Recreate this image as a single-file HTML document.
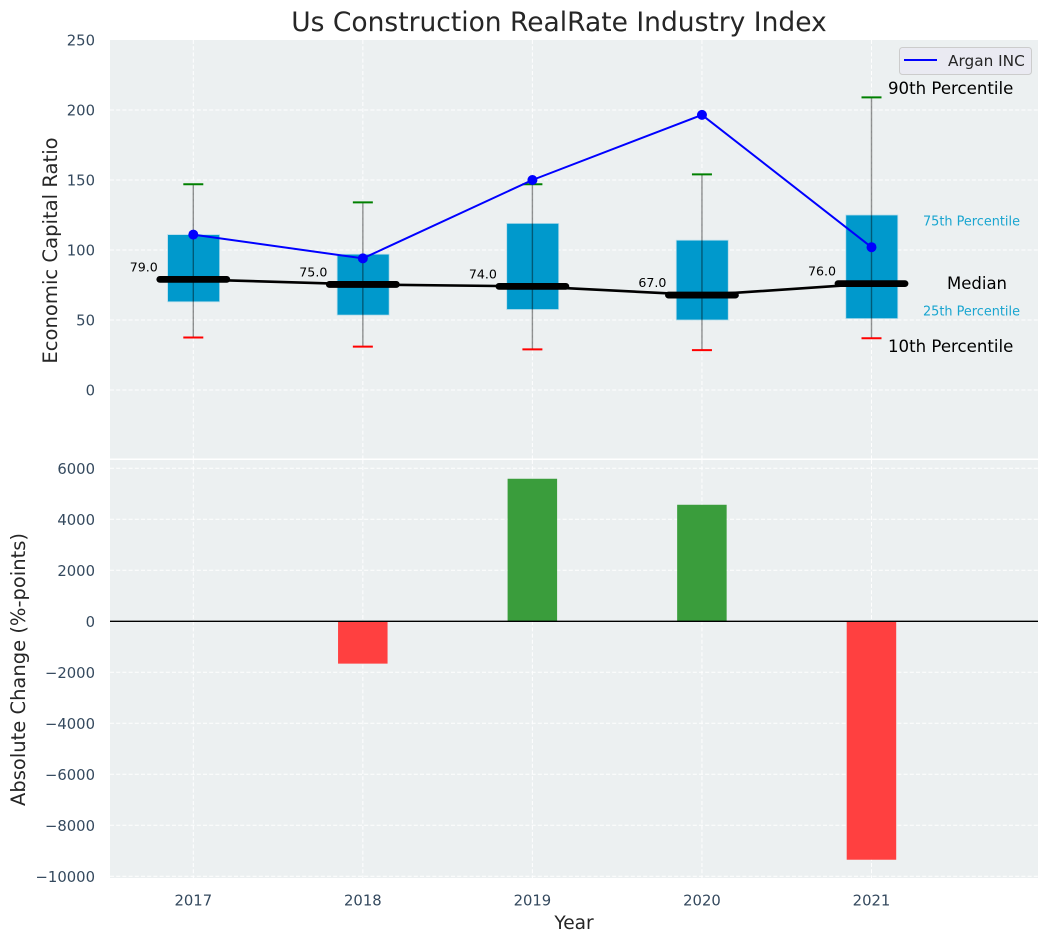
<!DOCTYPE html>
<html>
<head>
<meta charset="utf-8">
<title>Us Construction RealRate Industry Index</title>
<style>
html,body{margin:0;padding:0;background:#fff;}
svg{display:block;font-family:"DejaVu Sans","Liberation Sans",sans-serif;}
</style>
</head>
<body>
<svg id="chart" width="1048" height="942" viewBox="0 0 1048 942" xmlns="http://www.w3.org/2000/svg">
  <rect x="110" y="40" width="928" height="418.5" fill="#ecf0f1"/>
  <rect x="110" y="460" width="928" height="418" fill="#ecf0f1"/>
  <g id="grid"></g>
  <g id="upper"></g>
  <g id="lower"></g>
  <g id="ticks" font-size="14.8" fill="#34495e"></g>

  <text x="559" y="31" text-anchor="middle" font-size="26.5" fill="#262626">Us Construction RealRate Industry Index</text>
  <text transform="translate(57,250.5) rotate(-90)" text-anchor="middle" font-size="19.6" fill="#262626">Economic Capital Ratio</text>
  <text transform="translate(25,669.5) rotate(-90)" text-anchor="middle" font-size="19.5" fill="#262626">Absolute Change (%-points)</text>
  <text x="574" y="929" text-anchor="middle" font-size="18.6" fill="#262626">Year</text>

  <g>
    <rect x="899.5" y="47.5" width="132" height="27" rx="3" fill="#eaeaf2" stroke="#cccccc" stroke-width="1"/>
    <line x1="904" y1="60" x2="937" y2="60" stroke="#0000ff" stroke-width="2"/>
    <text x="948" y="66" font-size="15.3" fill="#262626">Argan INC</text>
  </g>

  <text x="888" y="94" font-size="16.6" fill="#000">90th Percentile</text>
  <text x="923" y="225.5" font-size="12.85" fill="#19a5d0">75th Percentile</text>
  <text x="947" y="289" font-size="16.5" fill="#000">Median</text>
  <text x="923" y="315.5" font-size="12.85" fill="#19a5d0">25th Percentile</text>
  <text x="888" y="352" font-size="16.6" fill="#000">10th Percentile</text>
</svg>
<script>
const years = [2017, 2018, 2019, 2020, 2021];
const p90 = [147, 134, 147, 154, 209];
const p75 = [111, 97, 119, 107, 125];
const median = [79, 75.4, 74, 67.8, 76];
const p25 = [63, 53.5, 57.5, 50, 51];
const p10 = [37.5, 31, 29, 28.5, 37];
const arganInc = [111, 94, 150, 196.5, 102];
const absoluteChange = [0, -1660, 5590, 4570, -9350];
const upperTicks = [0, 50, 100, 150, 200, 250];
const lowerTicks = [-10000, -8000, -6000, -4000, -2000, 0, 2000, 4000, 6000];

const NS = 'http://www.w3.org/2000/svg';
const xScale = v => 193.3 + (v - 2017) * 169.55;
const yUpper = v => 390 - v * 1.4;
const yLower = v => 621.3 - v * 0.0255;

function make(tag, props, parent) {
  const el = document.createElementNS(NS, tag);
  for (const k in props) el.setAttribute(k, props[k]);
  parent.appendChild(el);
  return el;
}
const grid = document.getElementById('grid');
const upper = document.getElementById('upper');
const lower = document.getElementById('lower');
const ticks = document.getElementById('ticks');
const dash = {stroke: '#ffffff', 'stroke-width': 1, 'stroke-dasharray': '4 2.2', opacity: 0.95};

years.forEach(y => {
  const x = xScale(y);
  [[40, 458.5], [460, 878]].forEach(r => {
    const g = make('line', Object.assign({x1: x, x2: x, y1: r[0], y2: r[1]}, dash), grid);
    
    
  });
  const t = make('text', {x: x, y: 905.3, 'text-anchor': 'middle'}, ticks);
  t.textContent = y;
  
  
});

upperTicks.forEach(v => {
  const y = yUpper(v);
  if (v < 250) {
    const g = make('line', Object.assign({x1: 110, x2: 1038, y1: y, y2: y}, dash), grid);
    
    
  }
  const t = make('text', {x: 95, y: y + 5.4, 'text-anchor': 'end'}, ticks);
  t.textContent = v;
  
  
});

lowerTicks.forEach(v => {
  const y = yLower(v);
  const g = make('line', Object.assign({x1: 110, x2: 1038, y1: y, y2: y}, dash), grid);
  
  
  const t = make('text', {x: 95, y: y + 5.6, 'text-anchor': 'end'}, ticks);
  t.textContent = String(v).replace('-', '\u2212');
  
  
});

/* boxes */
years.forEach((y, i) => {
  const x = xScale(y);
  const b = make('rect', {x: x - 25.7, y: yUpper(p75[i]), width: 52, height: yUpper(p25[i]) - yUpper(p75[i]), fill: '#0099cc', stroke: '#b5dcea', 'stroke-width': 0.8}, upper);
  
  
});

/* median connecting line */
const medPts = years.map((y, i) => xScale(y) + ',' + yUpper(median[i])).join(' ');
const medLine = make('polyline', {points: medPts, fill: 'none', stroke: '#000', 'stroke-width': 2.6}, upper);



years.forEach((y, i) => {
  const x = xScale(y);
  const w = make('line', {x1: x, x2: x, y1: yUpper(p90[i]), y2: yUpper(p10[i]), stroke: '#000', 'stroke-opacity': 0.42, 'stroke-width': 1.4}, upper);
  
  
  const hi = make('line', {x1: x - 10, x2: x + 10, y1: yUpper(p90[i]), y2: yUpper(p90[i]), stroke: '#008000', 'stroke-width': 2}, upper);
  
  
  const lo = make('line', {x1: x - 10, x2: x + 10, y1: yUpper(p10[i]), y2: yUpper(p10[i]), stroke: '#ff0000', 'stroke-width': 2}, upper);
  
  
  const m = make('line', {x1: x - 33.5, x2: x + 33.5, y1: yUpper(median[i]), y2: yUpper(median[i]), stroke: '#000', 'stroke-width': 6.8, 'stroke-linecap': 'round'}, upper);
  
  
  const t = make('text', {x: x - 35.5, y: yUpper(median[i]) - 8, 'text-anchor': 'end', 'font-size': 12.6, fill: '#000'}, upper);
  t.textContent = Math.floor(median[i]).toFixed(1);
  
  
});

/* Argan INC line */
const argPts = years.map((y, i) => xScale(y) + ',' + yUpper(arganInc[i])).join(' ');
const argLine = make('polyline', {points: argPts, fill: 'none', stroke: '#0000ff', 'stroke-width': 2}, upper);


years.forEach((y, i) => {
  const c = make('circle', {cx: xScale(y), cy: yUpper(arganInc[i]), r: 5, fill: '#0000ff'}, upper);
  
  
});

/* lower bars */
years.forEach((y, i) => {
  const v = absoluteChange[i];
  if (v === 0) return;
  const x = xScale(y);
  const top = Math.min(yLower(v), yLower(0));
  const h = Math.abs(yLower(v) - yLower(0));
  const b = make('rect', {x: x - 24.8, y: top, width: 49.5, height: h, fill: v > 0 ? '#3a9d3c' : '#ff4040'}, lower);
  
  
});
const zero = make('line', {x1: 110, x2: 1038, y1: yLower(0), y2: yLower(0), stroke: '#000', 'stroke-width': 1.3}, lower);


</script>
</body>
</html>
